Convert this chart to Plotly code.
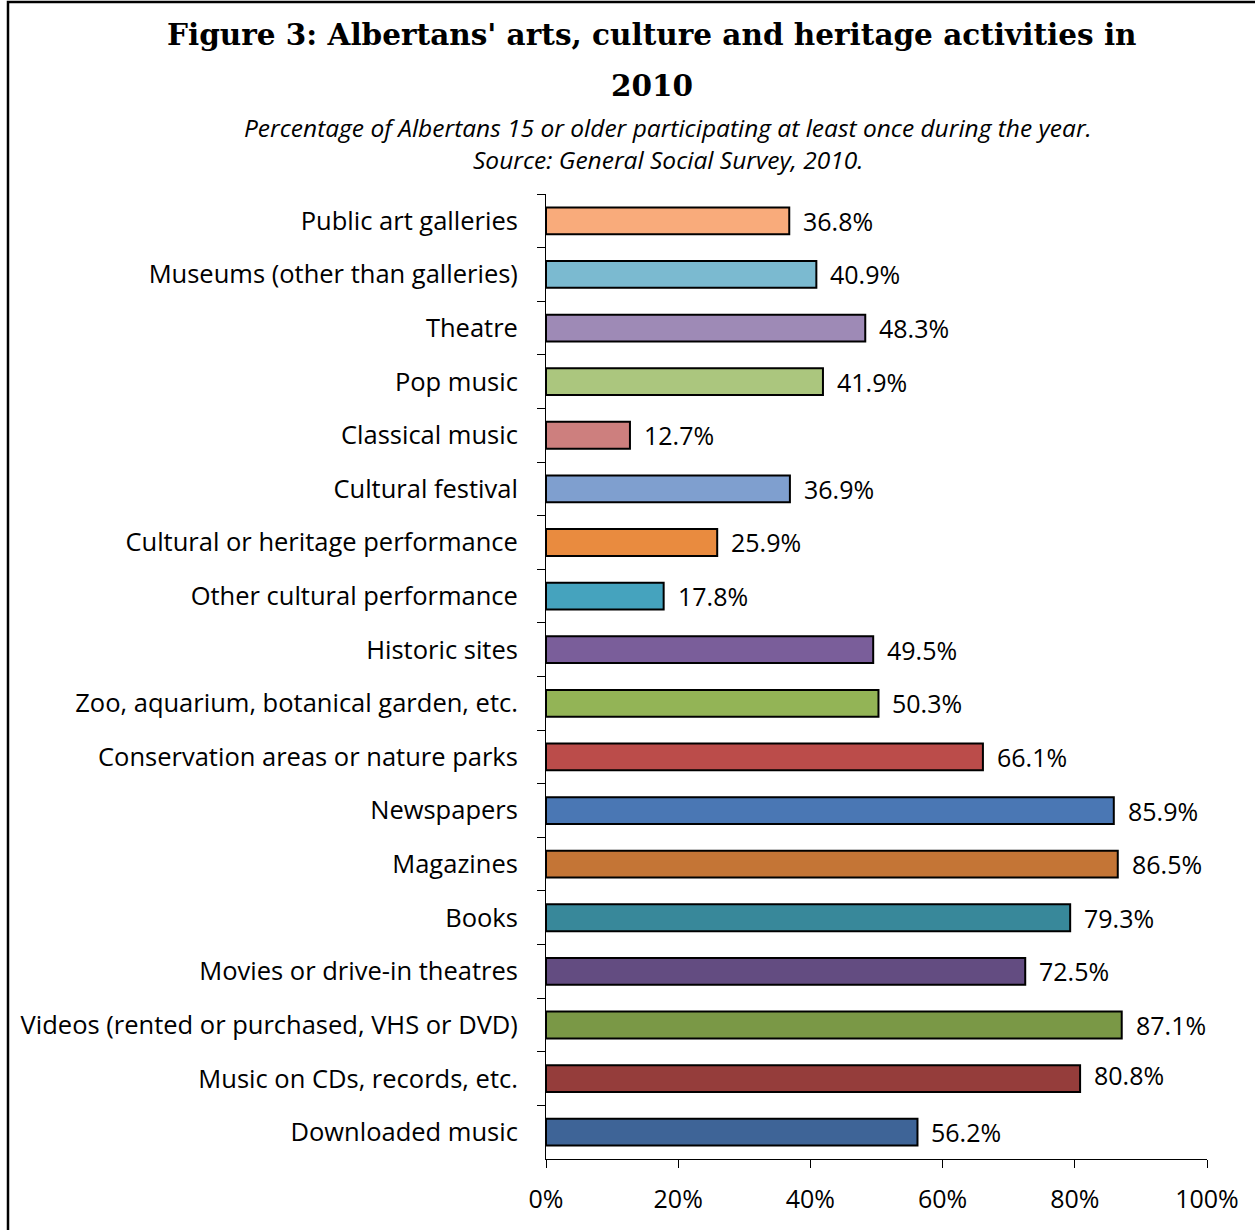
import plotly.graph_objects as go

categories = [
    "Public art galleries",
    "Museums (other than galleries)",
    "Theatre",
    "Pop music",
    "Classical music",
    "Cultural festival",
    "Cultural or heritage performance",
    "Other cultural performance",
    "Historic sites",
    "Zoo, aquarium, botanical garden, etc.",
    "Conservation areas or nature parks",
    "Newspapers",
    "Magazines",
    "Books",
    "Movies or drive-in theatres",
    "Videos (rented or purchased, VHS or DVD)",
    "Music on CDs, records, etc.",
    "Downloaded music",
]
values = [36.8, 40.9, 48.3, 41.9, 12.7, 36.9, 25.9, 17.8, 49.5, 50.3,
          66.1, 85.9, 86.5, 79.3, 72.5, 87.1, 80.8, 56.2]
colors = [
    "#F9AB7B", "#7BBAD0", "#9E8AB6", "#ABC67E", "#CD7F7E", "#7F9FCF",
    "#E98B3F", "#45A3BE", "#7A5E9A", "#93B456", "#BB4C4A", "#4A77B4",
    "#C47536", "#38889A", "#634C81", "#7A9846", "#953D3B", "#3E6497",
]
tick_vals = [0, 20, 40, 60, 80, 100]
tick_text = ["0%", "20%", "40%", "60%", "80%", "100%"]
title_lines = ["Figure 3: Albertans' arts, culture and heritage activities in", "2010"]
subtitle_lines = ["Percentage of Albertans 15 or older participating at least once during the year.",
                  "Source: General Social Survey, 2010."]

W, H = 1255, 1230
L, R, T, B = 546, 48, 194, 71
pw = W - L - R
ph = H - T - B

def px(x):
    return (x - L) / pw

def py(y):
    return (H - B - y) / ph

FONT = "Open Sans, Lato, sans-serif"

fig = go.Figure()
fig.add_trace(go.Bar(
    x=values, y=categories, orientation="h",
    marker=dict(color=colors, line=dict(color="#000000", width=2)),
    width=0.5, hoverinfo="x+y",
))

label_font = dict(family=FONT, size=25, color="#000000")

for c, v in zip(categories, values):
    fig.add_annotation(
        x=v, y=c, xref="x", yref="y", text=f"{v:.1f}%",
        showarrow=False, xanchor="left", yanchor="middle",
        xshift=12, yshift=(4 if c == "Music on CDs, records, etc." else 0),
        font=label_font,
    )

for line, ypix in zip(title_lines, [35, 85]):
    fig.add_annotation(
        x=px(652), y=py(ypix), xref="paper", yref="paper",
        text=f"<b>{line}</b>",
        showarrow=False, xanchor="center", yanchor="middle",
        font=dict(family="DejaVu Serif, serif", size=29.5, color="#000000"),
    )
for line, ypix in zip(subtitle_lines, [127, 160]):
    fig.add_annotation(
        x=px(668), y=py(ypix), xref="paper", yref="paper",
        text=f"<i>{line}</i>",
        showarrow=False, xanchor="center", yanchor="middle",
        font=dict(family=FONT, size=24.5, color="#000000"),
    )

fig.add_shape(
    type="rect", xref="paper", yref="paper",
    x0=px(8), x1=px(1300), y0=py(2), y1=py(1300),
    line=dict(color="#000000", width=2.5), fillcolor="rgba(0,0,0,0)",
)

fig.update_layout(
    width=W, height=H,
    margin=dict(l=L, r=R, t=T, b=B, pad=0),
    paper_bgcolor="white", plot_bgcolor="white",
    showlegend=False,
    font=label_font,
)
fig.update_xaxes(
    range=[0, 100], tickvals=tick_vals, ticktext=tick_text,
    showgrid=False, zeroline=False, showline=True, linecolor="#000000", linewidth=1,
    ticks="outside", ticklen=8, tickcolor="#000000", tickfont=dict(size=25),
    ticklabelstandoff=10,
)
fig.update_yaxes(
    autorange="reversed", showgrid=False, zeroline=False,
    showline=True, linecolor="#000000", linewidth=1,
    ticks="outside", tickson="boundaries", ticklen=8, tickcolor="#000000",
    tickfont=dict(size=25.5), ticklabelstandoff=22,
)

fig.write_html("out.html")
